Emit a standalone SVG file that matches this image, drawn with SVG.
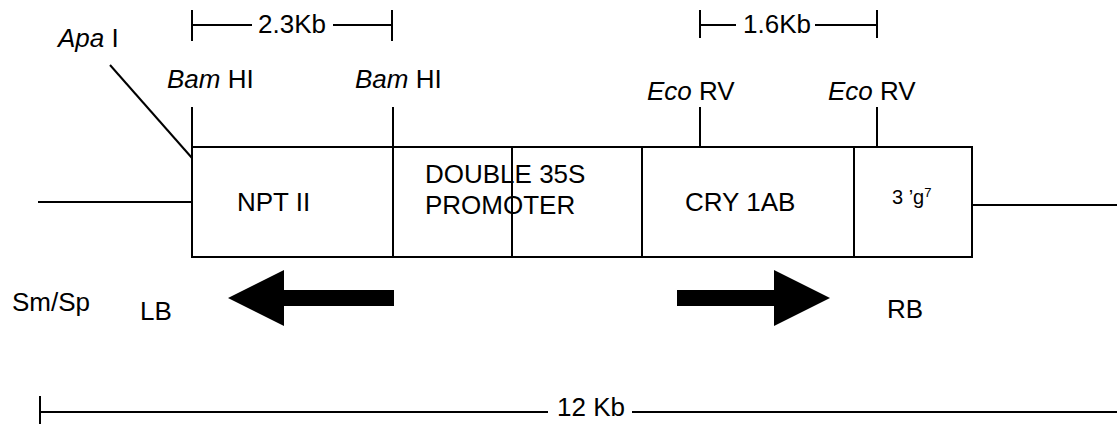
<svg xmlns="http://www.w3.org/2000/svg" width="1117" height="424" viewBox="0 0 1117 424">
<style>
text{font-family:"Liberation Sans",Arial,sans-serif;font-size:26px;fill:#000}
.i{font-style:italic}
.ln{stroke:#000;stroke-width:2;fill:none}
.box{stroke:#000;stroke-width:2;fill:#fff}
</style>
<rect width="1117" height="424" fill="#fff"/>
<g id="connectors">
<line class="ln" x1="38" y1="202" x2="192" y2="202"/>
<line class="ln" x1="972" y1="205" x2="1117" y2="205"/>
<line class="ln" x1="110" y1="65" x2="192" y2="158"/>
<line class="ln" x1="192" y1="107" x2="192" y2="147"/>
<line class="ln" x1="393" y1="107" x2="393" y2="147"/>
<line class="ln" x1="700" y1="107" x2="700" y2="147"/>
<line class="ln" x1="877" y1="107" x2="877" y2="147"/>
</g>
<g id="scale-2-3kb">
<line class="ln" x1="192" y1="10" x2="192" y2="41"/>
<line class="ln" x1="392" y1="10" x2="392" y2="41"/>
<line class="ln" x1="192" y1="25" x2="252" y2="25"/>
<line class="ln" x1="333" y1="25" x2="392" y2="25"/>
<text x="258" y="33">2.3Kb</text>
</g>
<g id="scale-1-6kb">
<line class="ln" x1="700" y1="10" x2="700" y2="38"/>
<line class="ln" x1="877" y1="10" x2="877" y2="38"/>
<line class="ln" x1="700" y1="25" x2="736" y2="25"/>
<line class="ln" x1="815" y1="25" x2="877" y2="25"/>
<text x="743" y="33">1.6Kb</text>
</g>
<g id="labels">
<text x="58" y="47"><tspan class="i">Apa</tspan> I</text>
<text x="167" y="88"><tspan class="i">Bam</tspan> HI</text>
<text x="355" y="88"><tspan class="i">Bam</tspan> HI</text>
<text x="647" y="100"><tspan class="i">Eco</tspan> RV</text>
<text x="828" y="100"><tspan class="i">Eco</tspan> RV</text>
<text x="12" y="311">Sm/Sp</text>
<text x="140" y="320">LB</text>
<text x="887" y="318">RB</text>
</g>
<g id="npt2">
<rect class="box" x="192" y="147" width="201" height="110"/>
<text x="237" y="211">NPT II</text>
</g>
<g id="promoter">
<rect class="box" x="393" y="147" width="249" height="110"/>
<line class="ln" x1="512" y1="147" x2="512" y2="257"/>
<text x="425" y="183">DOUBLE 35S</text>
<text x="425" y="214">PROMOTER</text>
</g>
<g id="cry1ab">
<rect class="box" x="642" y="147" width="212" height="110"/>
<text x="685" y="211">CRY 1AB</text>
</g>
<g id="g7">
<rect class="box" x="854" y="147" width="118" height="110"/>
<text x="892" y="204" style="font-size:20px">3 ’g<tspan dy="-7" style="font-size:13px">7</tspan></text>
</g>
<g id="arrow-left">
<polygon points="228,298 284,270 284,290 394,290 394,306 284,306 284,326" fill="#000"/>
</g>
<g id="arrow-right">
<polygon points="830,298 774,270 774,290 677,290 677,306 774,306 774,326" fill="#000"/>
</g>
<g id="scale-12kb">
<line class="ln" x1="40" y1="396" x2="40" y2="424"/>
<line class="ln" x1="40" y1="412" x2="548" y2="412"/>
<line class="ln" x1="632" y1="412" x2="1117" y2="412"/>
<text x="557" y="416">12 Kb</text>
</g>
</svg>
